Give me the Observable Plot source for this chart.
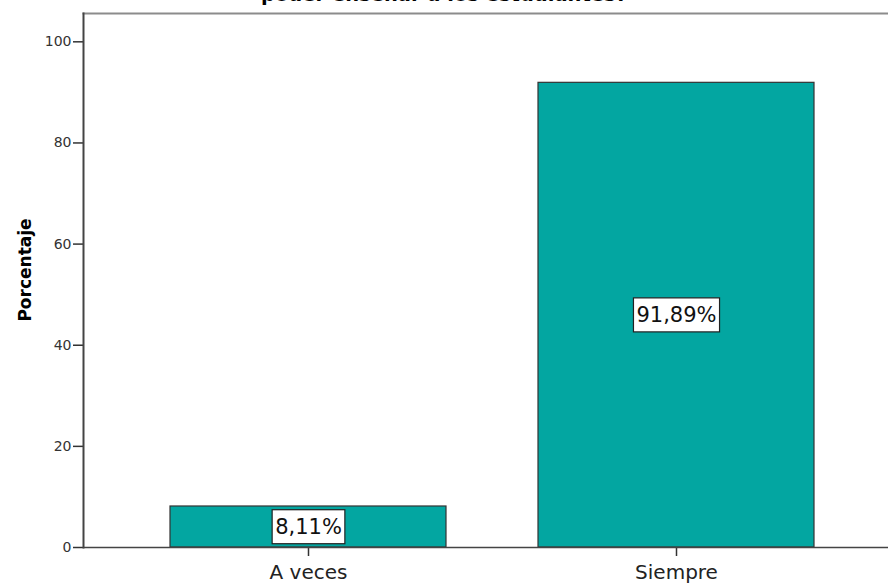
<!DOCTYPE html>
<html>
<head>
<meta charset="utf-8">
<script src="https://cdn.jsdelivr.net/npm/d3@7"></script>
<script src="https://cdn.jsdelivr.net/npm/@observablehq/plot@0.6"></script>
<style>
  html, body { margin: 0; padding: 0; background: white; overflow: hidden; }
  #wrap { position: relative; width: 888px; height: 583px; overflow: hidden; }
  #title { position: absolute; top: -15px; left: 0; width: 888px; text-align: center;
           font: bold 19.5px "DejaVu Sans", sans-serif; color: #000; line-height: 20px; white-space: nowrap; }
  #ylabel { position: absolute; left: 25px; top: 270px; transform: translate(-50%, -50%) rotate(-90deg);
            font: bold 17px "DejaVu Sans", sans-serif; color: #000; white-space: nowrap; }
  #chart { position: absolute; top: 0; left: 0; width: 901px; }
  #chart svg { max-width: none !important; }
</style>
</head>
<body>
<div id="wrap">
  <div id="chart"></div>
  <div id="title"></div>
  <div id="ylabel"></div>
</div>
<script>
const categories = ["A veces", "Siempre"];
const percentages = [8.11, 91.89];
const valueLabels = ["8,11%", "91,89%"];
const yTicks = [0, 20, 40, 60, 80, 100];
const titleText = "poder enseñar a los estudiantes?";
const yLabel = "Porcentaje";

const data = categories.map((c, i) => ({cat: c, v: percentages[i], label: valueLabels[i]}));

document.getElementById("title").textContent = titleText;
document.getElementById("ylabel").textContent = yLabel;

const chart = Plot.plot({
  width: 901,
  height: 583,
  marginLeft: 83,
  marginRight: 0,
  marginTop: 13,
  marginBottom: 36,
  style: {fontFamily: "DejaVu Sans", background: "white", color: "#222", maxWidth: "none"},
  x: {domain: categories, paddingInner: 0.25, paddingOuter: 0.236, axis: null},
  y: {domain: [0, 105.6], axis: null},
  marks: [
    Plot.frame({anchor: "top", stroke: "#8c8c8c", strokeWidth: 2}),
    Plot.barY(data, {x: "cat", y: "v", fill: "#03A6A1", stroke: "#333", strokeWidth: 1.2}),
    Plot.axisY(yTicks, {tickSize: 10, tickPadding: 2, fontSize: 14, stroke: "#333", strokeWidth: 1.5, fill: "#333", label: null}),
    Plot.axisX({tickSize: 9, tickPadding: 8, fontSize: 20, stroke: "#333", strokeWidth: 1.5, fill: "#222", label: null}),
    Plot.frame({anchor: "left", stroke: "#444", strokeWidth: 2}),
    Plot.ruleY([0], {stroke: "#444", strokeWidth: 1.5}),
    Plot.text(data, {x: "cat", y: d => d.v / 2, text: "label", fontSize: 21, fill: "#111"})
  ]
});

document.getElementById("chart").appendChild(chart);

// white boxes behind value labels
chart.querySelectorAll("text").forEach(t => {
  if (!valueLabels.includes(t.textContent)) return;
  const b = t.getBBox();
  const r = document.createElementNS("http://www.w3.org/2000/svg", "rect");
  const padX = 3, padY = 5;
  r.setAttribute("x", b.x - padX);
  r.setAttribute("y", b.y - padY);
  r.setAttribute("width", b.width + 2 * padX);
  r.setAttribute("height", b.height + 2 * padY);
  r.setAttribute("fill", "white");
  r.setAttribute("stroke", "#222");
  r.setAttribute("stroke-width", "1.2");
  const tr = t.getAttribute("transform");
  if (tr) r.setAttribute("transform", tr);
  t.parentNode.insertBefore(r, t);
});
</script>
</body>
</html>
